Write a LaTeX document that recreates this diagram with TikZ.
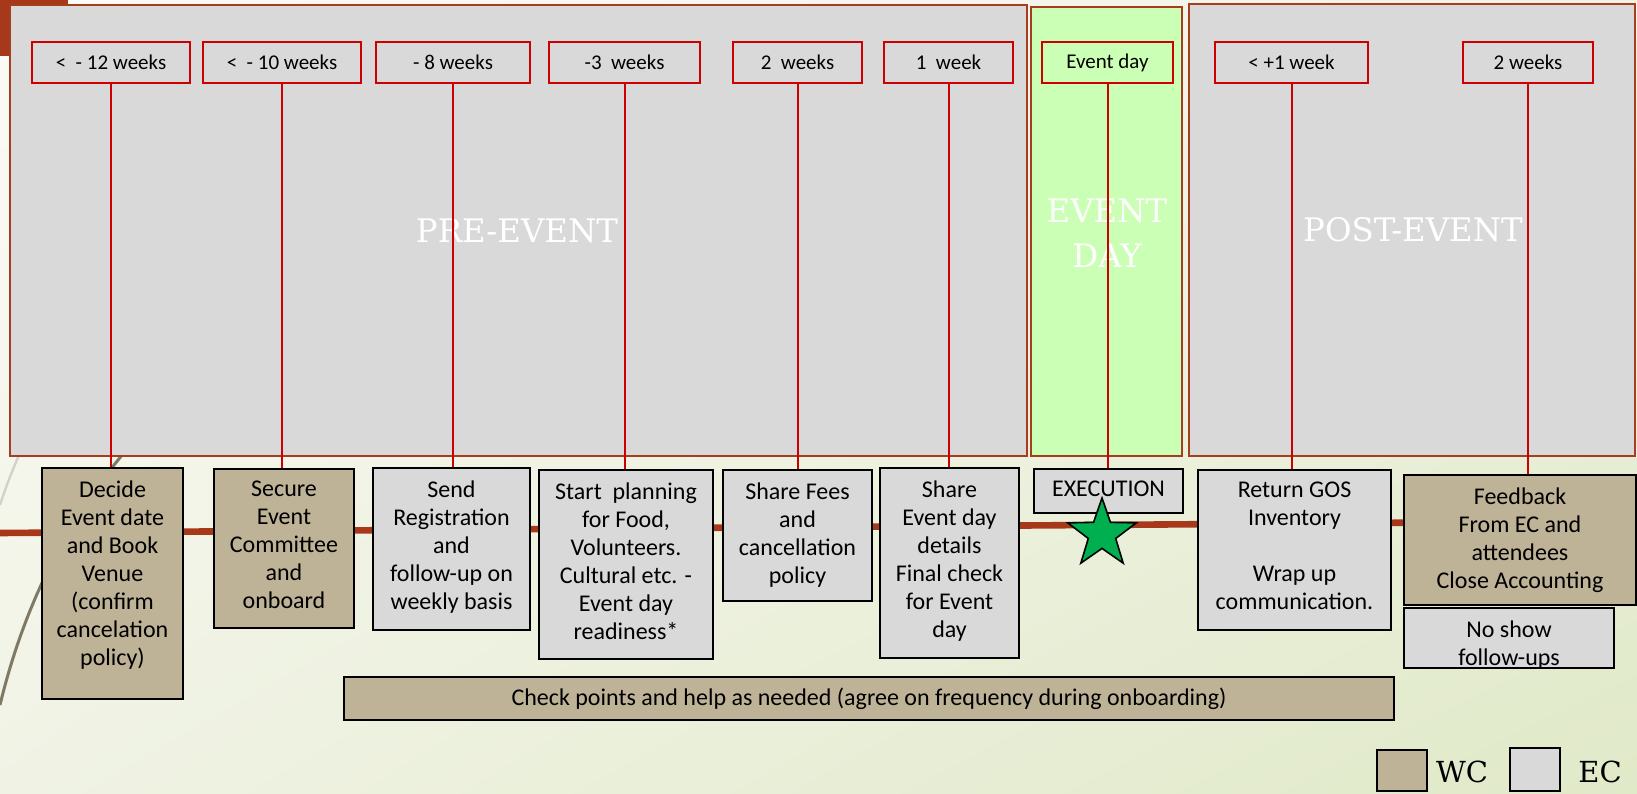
\documentclass[tikz,border=0pt]{standalone}
\usepackage{fontspec}
\setmainfont{Carlito}
\newfontfamily\slab{DejaVu Serif}
\usetikzlibrary{fit,shapes.geometric,shadings}

\definecolor{bgTL}{RGB}{251,251,247}
\definecolor{bgTR}{RGB}{240,243,228}
\definecolor{bgBL}{RGB}{240,243,228}
\definecolor{bgBR}{RGB}{224,233,200}
\definecolor{brownline}{RGB}{168,56,26}
\definecolor{frameb}{RGB}{165,62,30}
\definecolor{panel}{RGB}{217,217,217}
\definecolor{evgreen}{RGB}{204,255,182}
\definecolor{tanc}{RGB}{190,178,151}
\definecolor{tred}{RGB}{204,0,0}
\definecolor{stargreen}{RGB}{0,176,80}
\definecolor{curvedark}{RGB}{128,122,100}
\definecolor{curvelight}{RGB}{210,210,200}

\begin{document}
\begin{tikzpicture}[x=0.5pt,y=-0.5pt,
  panelbox/.style={draw=frameb, line width=1.3pt, inner sep=0pt},
  tbox/.style={draw=tred, line width=1pt, inner sep=0pt},
  tlbl/.style={anchor=center, inner sep=0pt, font=\fontsize{10.5}{12}\selectfont},
  task/.style={draw=black, line width=1pt, inner sep=0pt},
  wcbox/.style={task, fill=tanc},
  ecbox/.style={task, fill=panel},
  lbl/.style={anchor=north, yshift=-6.5pt, inner sep=0pt, align=center, font=\fontsize{12}{14}\selectfont},
  clbl/.style={anchor=center, inner sep=0pt, font=\fontsize{12}{14}\selectfont},
  bigtxt/.style={text=white, font=\slab\fontsize{16.2}{22.5}\selectfont, align=center},
  tick/.style={draw=tred, line width=1pt},
  timeline/.style={draw=brownline, line width=3.3pt},
  legtxt/.style={font=\slab\fontsize{14.5}{16}\selectfont}
]
\useasboundingbox (0,0) rectangle (1637,793);
\shade[upper left=bgTL, upper right=bgTR, lower left=bgBL, lower right=bgBR] (0,0) rectangle (1637,793);

% theme decoration
\fill[brownline] (0,0) rectangle (68,56);
\draw[curvelight, line width=1.2pt] (0,505) .. controls (8,480) and (15,465) .. (25,440);
\draw[curvedark, line width=1.5pt] (0,705) .. controls (18,630) and (55,530) .. (135,440);

% panels
\node[panelbox, fill=panel, fit={(10,5) (1027,456)}] (pre) {};
\node[panelbox, fill=evgreen, fit={(1031,7) (1182,456)}] (day) {};
\node[panelbox, fill=panel, fit={(1189,4) (1635,456)}] (post) {};

\node[bigtxt] (preT) at (517,231) {PRE-EVENT};
\node[bigtxt] (dayT) at (1107,233) {EVENT\\DAY};
\node[bigtxt] (postT) at (1413,230) {POST-EVENT};

% timeline
\coordinate (tl0) at (0,533);
\coordinate (tl1) at (1637,521);
\draw[timeline] (tl0) -- (tl1);

% timing boxes
\node[tbox, fill=panel, fit={(32,42) (190,83)}, label={[tlbl]center:{<\ \ - 12 weeks}}] (t1) {};
\node[tbox, fill=panel, fit={(203,42) (361,83)}, label={[tlbl]center:{<\ \ - 10 weeks}}] (t2) {};
\node[tbox, fill=panel, fit={(376,42) (530,83)}, label={[tlbl]center:{- 8 weeks}}] (t3) {};
\node[tbox, fill=panel, fit={(549,42) (700,83)}, label={[tlbl]center:{-3\ \ weeks}}] (t4) {};
\node[tbox, fill=panel, fit={(733,42) (862,83)}, label={[tlbl]center:{2\ \ weeks}}] (t5) {};
\node[tbox, fill=panel, fit={(884,42) (1013,83)}, label={[tlbl]center:{1\ \ week}}] (t6) {};
\node[tbox, fill=evgreen, fit={(1042,42) (1173,83)}, label={[tlbl]center:{Event day}}] (t7) {};
\node[tbox, fill=panel, fit={(1215,42) (1368,83)}, label={[tlbl]center:{< +1 week}}] (t8) {};
\node[tbox, fill=panel, fit={(1463,42) (1593,83)}, label={[tlbl]center:{2 weeks}}] (t9) {};

% task boxes
\node[wcbox, fit={(42,468) (183,699)}, label={[lbl]north:{Decide\\Event date\\and Book\\Venue\\(confirm\\cancelation\\policy)}}] (A) {};
\node[wcbox, fit={(214,469) (354,628)}, label={[lbl]north:{Secure\\Event\\Committee\\and\\onboard}}] (B) {};
\node[ecbox, fit={(373,468) (530,630)}, label={[lbl]north:{Send\\Registration\\and\\follow-up on\\weekly basis}}] (C) {};
\node[ecbox, fit={(539,470) (713,659)}, label={[lbl]north:{Start\ \ planning\\for Food,\\Volunteers.\\Cultural etc. -\\Event day\\readiness*}}] (D) {};
\node[ecbox, fit={(723,470) (872,601)}, label={[lbl]north:{Share Fees\\and\\cancellation\\policy}}] (E) {};
\node[ecbox, fit={(880,468) (1019,658)}, label={[lbl]north:{Share\\Event day\\details\\Final check\\for Event\\day}}] (F) {};
\node[ecbox, fit={(1034,469) (1183,513)}, label={[lbl]north:{EXECUTION}}] (G) {};
\node[ecbox, fit={(1198,470) (1391,630)}, label={[lbl]north:{Return GOS\\Inventory\\[14pt]Wrap up\\communication.}}] (H) {};
\node[wcbox, fit={(1404,475) (1636,605)}, label={[lbl]north:{Feedback\\From EC and\\attendees\\Close Accounting}}] (I) {};
\node[ecbox, fit={(1404,608) (1614,668)}, label={[lbl]north:{No show\\follow-ups}}] (J) {};
\node[wcbox, fit={(344,677) (1394,720)}, label={[clbl]center:{Check points and help as needed (agree on frequency during onboarding)}}] (K) {};

% ticks
\draw[tick] (t1.south) -- (t1.south |- A.north);
\draw[tick] (t2.south) -- (t2.south |- B.north);
\draw[tick] (t3.south) -- (t3.south |- C.north);
\draw[tick] (t4.south) -- (t4.south |- D.north);
\draw[tick] (t5.south) -- (t5.south |- E.north);
\draw[tick] (t6.south) -- (t6.south |- F.north);
\draw[tick] (t7.south) -- (t7.south |- G.north);
\draw[tick] (t8.south) -- (t8.south |- H.north);
\draw[tick] (t9.south) -- (t9.south |- I.north);

% star
\node[star, star points=5, star point ratio=2.5, fill=stargreen, draw=black, line width=0.8pt, minimum size=36pt, inner sep=0pt] (star) at (1102,534) {};

% legend
\node[wcbox, fit={(1377,750) (1427,791)}] (lw) {};
\node[legtxt] (lwT) at (1462,772) {WC};
\node[ecbox, fit={(1510,748) (1560,791)}] (le) {};
\node[legtxt] (leT) at (1600,772) {EC};
\end{tikzpicture}
\end{document}
